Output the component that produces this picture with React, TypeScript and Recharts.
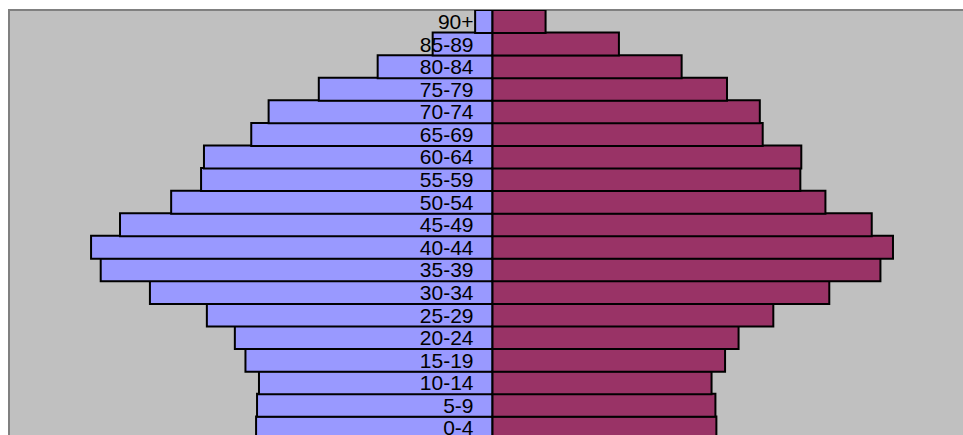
import { BarChart, Bar, XAxis, YAxis, LabelList } from "recharts";

// age bands, youngest first (drawn bottom to top)
const ageGroups = [
  "0-4", "5-9", "10-14", "15-19", "20-24", "25-29", "30-34", "35-39", "40-44",
  "45-49", "50-54", "55-59", "60-64", "65-69", "70-74", "75-79", "80-84", "85-89", "90+",
];

// left side of the pyramid
const maleCounts = [
  245, 244, 242, 256, 267, 296, 355, 406, 416,
  386, 333, 302, 299, 250, 232, 180, 119, 62, 18,
];

// right side of the pyramid
const femaleCounts = [
  232, 231, 227, 241, 255, 291, 349, 402, 415,
  393, 345, 319, 320, 280, 277, 243, 196, 131, 55,
];

const data = ageGroups.map((age, i) => ({
  age,
  male: -maleCounts[i],
  female: femaleCounts[i],
}));

const FONT = '"Liberation Sans", Arial, sans-serif';

// age label sits just left of the centre line, over the left bar
function AgeLabel(props: any) {
  const { x, y, width, height, value } = props;
  const zero = Math.max(x, x + width);
  return (
    <text
      x={zero - 19}
      y={y + height / 2}
      textAnchor="end"
      dominantBaseline="central"
      fontFamily={FONT}
      fontSize={21}
      fill="#000"
    >
      {value}
    </text>
  );
}

export default function App() {
  return (
    <div
      style={{
        position: "fixed",
        inset: 0,
        overflow: "hidden",
        background: "#fff",
      }}
    >
      <div
        style={{
          position: "absolute",
          left: 8,
          top: 9,
          width: 2000,
          height: 1000,
          background: "#C0C0C0",
          borderTop: "2px solid #808080",
          borderLeft: "2px solid #808080",
        }}
      />
      <div style={{ position: "absolute", left: 10, top: 10 }}>
        <BarChart
          width={965}
          height={429}
          data={data}
          layout="vertical"
          stackOffset="sign"
          barCategoryGap={0}
          margin={{ top: 0, right: 0, bottom: 0, left: 0 }}
        >
          <XAxis type="number" domain={[-500, 500]} hide />
          <YAxis type="category" dataKey="age" reversed hide />
          <Bar
            dataKey="male"
            stackId="pyramid"
            fill="#9999FF"
            stroke="#000"
            strokeWidth={2}
            isAnimationActive={false}
          >
            <LabelList dataKey="age" content={AgeLabel} />
          </Bar>
          <Bar
            dataKey="female"
            stackId="pyramid"
            fill="#993366"
            stroke="#000"
            strokeWidth={2}
            isAnimationActive={false}
          />
        </BarChart>
      </div>
    </div>
  );
}
